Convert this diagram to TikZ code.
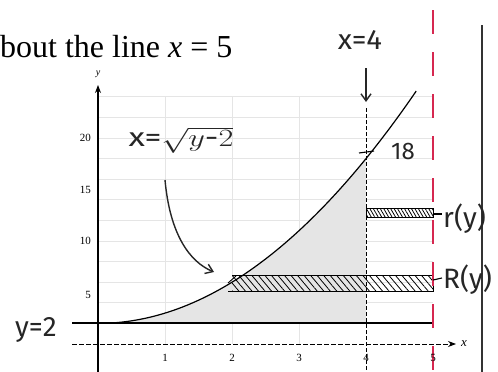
\documentclass[tikz,border=0pt]{standalone}
\usepackage{fontspec}
\setmainfont{Liberation Serif}
\newfontfamily\handfont{Fira Sans}
\usetikzlibrary{arrows.meta,patterns.meta,calc}
\begin{document}
\begin{tikzpicture}[x=1pt,y=-1pt,
  hand/.style={text=black!85, inner sep=0pt},
  ticklab/.style={font=\fontsize{11}{12}\selectfont, inner sep=0pt},
  gridline/.style={black!10, line width=0.8pt},
  hatchbox/.style={draw=black, line width=0.9pt},
]
\useasboundingbox (0,0) rectangle (498,372);
% helpers: X(u)=98+67u, Y(v)=344-10.3v
% grid
\foreach \v in {2,4,...,24} \draw[gridline] (98,{344-10.3*\v}) -- (433,{344-10.3*\v});
\foreach \u in {1,2,3} \draw[gridline] ({98+67*\u},97) -- ({98+67*\u},344);
% shaded region
\fill[black!10] (98,{344-10.3*2}) -- plot[domain=0:4,samples=60] ({98+67*\x},{344-10.3*(\x*\x+2)}) -- (366,{344-10.3*2}) -- cycle;
% hatched rectangles
\path[pattern={Lines[angle=-50,distance=5pt,line width=0.8pt]}] (232,275) rectangle (433,291);
\draw[hatchbox] (228,291) -- (433,291) -- (433,275) -- (232,275);
\draw[line width=0.9pt] (228,283) -- (236,276);
\path[pattern={Lines[angle=-60,distance=3pt,line width=0.8pt]}] (366,208) rectangle (433,217);
\draw[hatchbox] (366,208) rectangle (433,217);
% axes
\draw[line width=1.2pt,-{Stealth[length=8pt,width=6pt]}] (98,372) -- (98,85);
\draw[line width=1pt,dashed,dash pattern=on 5pt off 2pt,-{Stealth[length=8pt,width=6pt]}] (72,344) -- (456,344);
\draw[line width=1.2pt] (72,323) -- (433,323);
% x=4 dashed line
\draw[line width=0.8pt,dash pattern=on 4pt off 2pt] (366,108) -- (366,372);
% curve
\draw[line width=1.2pt] plot[domain=0:4.75,samples=80] ({98+67*\x},{344-10.3*(\x*\x+2)});
% red dashed line x=5
\draw[color={rgb,255:red,214;green,40;blue,80}, line width=2.6pt, dash pattern=on 24pt off 18pt] (433,10) -- (433,372);
% right border
\draw[line width=1.2pt, black!80] (482,25) -- (482,372);
% axis labels
\node[ticklab,font=\fontsize{10}{11}\selectfont\itshape] (ylab) at (98,74) {y};
\node[ticklab,font=\fontsize{13}{14}\selectfont\itshape] (xlab) at (464,344) {x};
\node[ticklab,anchor=east] (t20) at (91,138) {20};
\node[ticklab,anchor=east] (t15) at (91,190) {15};
\node[ticklab,anchor=east] (t10) at (91,241) {10};
\node[ticklab,anchor=east] (t5) at (91,295) {5};
\foreach \u in {1,2,3,4,5} \node[ticklab] (tx\u) at ({98+67*\u},358) {\u};
% title text
\node[anchor=base west, inner sep=0pt, font=\fontsize{32}{36}\selectfont] (title) at (0,57) {bout the line \textit{x} = 5};
% handwritten labels
\node[hand, font=\handfont\fontsize{28}{30}\selectfont] (lx4) at (360,40) {\scalebox{1.05}[1]{x=4}};
\coordinate (a4top) at (366,68);
\coordinate (a4bot) at (366,102);
\draw[line width=1.4pt, black!85, -{Straight Barb[length=7pt,width=10pt]}] (a4top) -- (a4bot);
\node[hand, font=\handfont\fontsize{26}{28}\selectfont] (lcurve) at (181,140) {\scalebox{1.3}[1]{x=$\sqrt{y\mbox{-}2}$}};
\coordinate (arrowtip) at (214,272);
\draw[line width=1.4pt, black!85, -{Straight Barb[length=7pt,width=10pt]}] (165,180) .. controls (170,235) and (190,262) .. (arrowtip);
\node[hand, font=\handfont\fontsize{24}{26}\selectfont] (l18) at (403,151) {18};
\draw[line width=1.1pt] (359,153) -- (374,151);
\node[hand, font=\handfont\fontsize{28}{30}\selectfont] (ly2) at (36,330) {y=2};
\node[hand, font=\handfont\fontsize{28}{30}\selectfont, anchor=west] (lr) at (443,219) {r(y)};
\node[hand, font=\handfont\fontsize{28}{30}\selectfont, anchor=west] (lR) at (443,280) {R(y)};
\draw[line width=1.1pt] (lr.west) ++(-10,-5) -- ++(9,0);
\draw[line width=1.1pt] (lR.west) ++(-10,0) -- ++(9,-2);
\end{tikzpicture}
\end{document}
